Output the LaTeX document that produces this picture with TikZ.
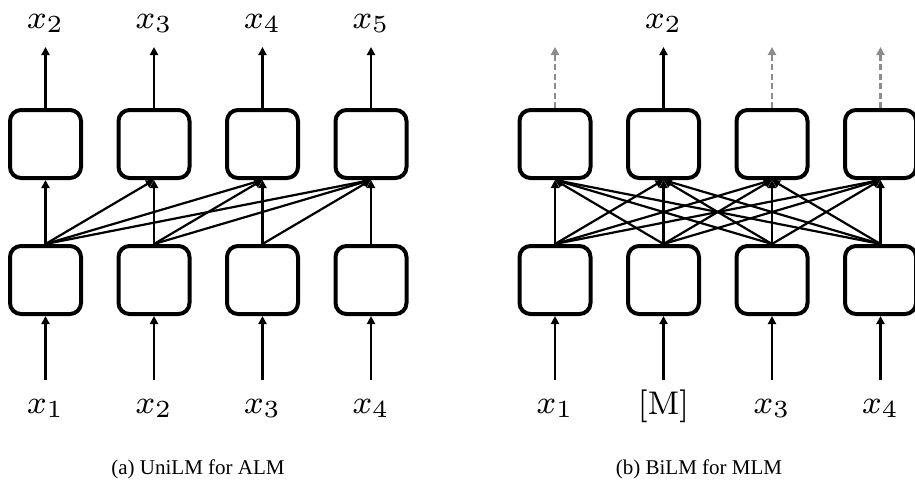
\documentclass[tikz,border=0pt]{standalone}
\usepackage{fontspec}
\usepackage{graphicx}
\newfontfamily\capfont{Liberation Serif}
\usetikzlibrary{arrows.meta}

% token labels: small optical size scaled up, for sturdier strokes
\newcommand{\tokenlabel}[1]{\scalebox{4.1}{\fontsize{8}{9}\selectfont$#1$}}

\tikzset{
  cell/.style={draw, line width=4pt, rounded corners=11pt,
               minimum width=71pt, minimum height=68pt, inner sep=0pt},
  link/.style={line width=2.2pt, -{Triangle[length=8pt,width=8pt]}},
  hidden/.style={line width=2.6pt, draw=black!45, dash pattern=on 6pt off 3.5pt,
                 -{Triangle[length=8pt,width=8pt,fill=black!45]}},
  tok/.style={anchor=base, inner sep=0pt},
  caption/.style={anchor=base, inner sep=0pt, font=\capfont\fontsize{21}{24}\selectfont}
}

\begin{document}
\begin{tikzpicture}[x=1pt, y=-1pt]
\useasboundingbox (0,0) rectangle (915,479);

% ---------------- (a) unidirectional model ----------------
\foreach \i/\cx in {1/45.5, 2/154, 3/262.5, 4/371} {
  \node[cell] (at\i) at (\cx,144) {};
  \node[cell] (ab\i) at (\cx,280) {};
  \coordinate (ain\i) at (\cx,380);
  \coordinate (aout\i) at (\cx,47);
  \draw[link] (ain\i) -- (ab\i.south);
  \draw[link] (at\i.north) -- (aout\i);
}
% each position sees itself and everything to its left
\foreach \i in {1,...,4} {
  \foreach \j in {\i,...,4} {
    \draw[link] (ab\i.north) -- (at\j.south);
  }
}
\node[tok] (ay2) at (45.5,28)  {\tokenlabel{x_2}};
\node[tok] (ay3) at (154,28)   {\tokenlabel{x_3}};
\node[tok] (ay4) at (262.5,28) {\tokenlabel{x_4}};
\node[tok] (ay5) at (371,28)   {\tokenlabel{x_5}};
\node[tok] (ax1) at (45.5,413) {\tokenlabel{x_1}};
\node[tok] (ax2) at (154,413)  {\tokenlabel{x_2}};
\node[tok] (ax3) at (262.5,413){\tokenlabel{x_3}};
\node[tok] (ax4) at (371,413)  {\tokenlabel{x_4}};
\node[caption] (acap) at (198,474) {(a) UniLM for ALM};

% ---------------- (b) bidirectional model ----------------
\foreach \i/\cx in {1/555, 2/663.5, 3/772, 4/880.5} {
  \node[cell] (bt\i) at (\cx,144) {};
  \node[cell] (bb\i) at (\cx,280) {};
  \coordinate (bin\i) at (\cx,380);
  \coordinate (bout\i) at (\cx,47);
  \draw[link] (bin\i) -- (bb\i.south);
}
\draw[hidden] (bt1.north) -- (bout1);
\draw[link]   (bt2.north) -- (bout2);
\draw[hidden] (bt3.north) -- (bout3);
\draw[hidden] (bt4.north) -- (bout4);
% every position sees every position
\foreach \i in {1,...,4} {
  \foreach \j in {1,...,4} {
    \draw[link] (bb\i.north) -- (bt\j.south);
  }
}
\node[tok] (by2) at (663.5,28) {\tokenlabel{x_2}};
\node[tok] (bx1) at (555,413)  {\tokenlabel{x_1}};
\node[tok] (bxm) at (663.5,414){\tokenlabel{[\mathrm{M}]}};
\node[tok] (bx3) at (772,413)  {\tokenlabel{x_3}};
\node[tok] (bx4) at (880.5,413){\tokenlabel{x_4}};
\node[caption] (bcap) at (699,474) {(b) BiLM for MLM};
\end{tikzpicture}
\end{document}
